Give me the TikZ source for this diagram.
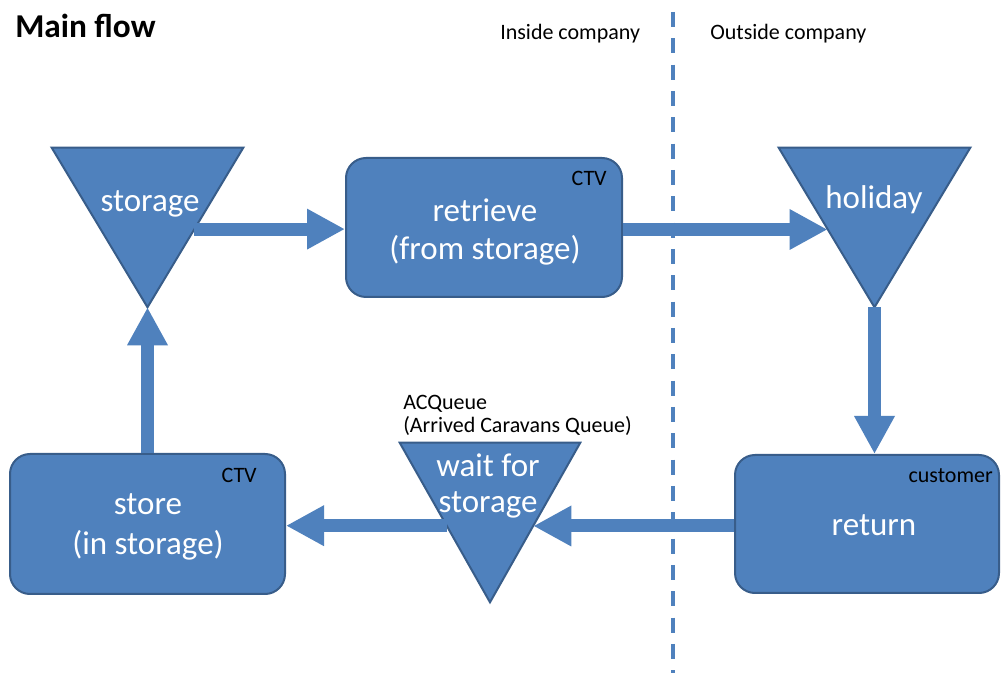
\documentclass[tikz,border=0pt]{standalone}
\usepackage{fontspec}
\setmainfont{Carlito}
\usetikzlibrary{arrows.meta,calc}
\definecolor{shapefill}{RGB}{79,129,189}
\definecolor{shapeline}{RGB}{56,93,138}

\begin{document}
\begin{tikzpicture}[x=0.75pt,y=-0.75pt,
  box/.style={draw=shapeline, fill=shapefill, line width=1.5pt, rounded corners=15pt, inner sep=0pt},
  triframe/.style={inner sep=0pt, minimum height=119.25pt},
  tri/.style={draw=shapeline, fill=shapefill, line width=1.5pt, line join=miter},
  big/.style={text=white, font=\fontsize{24.75}{29}\selectfont, inner sep=0pt, anchor=base},
  small/.style={text=black, font=\fontsize{16.5}{20}\selectfont, inner sep=0pt},
  flow/.style={draw=shapefill, line width=9.75pt, -{Triangle[length=28.5pt,width=28.5pt]}},
  divider/.style={draw=shapefill, line width=2.6pt, dash pattern=on 11.25pt off 8.5pt}
]
\fill[white] (0,0) rectangle (1001,673);
\useasboundingbox (0,0) rectangle (1001,673);

% headings
\node[anchor=base west, inner sep=0pt, font=\fontsize{25}{30}\selectfont\bfseries] (title) at (15,38) {Main flow};
\node[small, anchor=base west] (inside) at (500,40) {Inside company};
\node[small, anchor=base west] (outside) at (710,40) {Outside company};

% process boxes
\node[box, minimum width=207pt, minimum height=104.25pt] (retrieve) at (484,227.5) {};
\node[box, minimum width=206.25pt, minimum height=105pt] (store) at (147.5,524) {};
\node[box, minimum width=198pt, minimum height=103.5pt] (return) at (867,524) {};

% inventory triangles (frames, then the shapes)
\node[triframe, minimum width=143.25pt] (storage) at (147.5,227.5) {};
\node[triframe, minimum width=143.25pt] (holiday) at (874.5,227.5) {};
\node[triframe, minimum width=135pt] (wait) at (490,522.5) {};
\foreach \t in {storage,holiday,wait}
  \draw[tri] (\t.north west) -- (\t.north east) -- (\t.south) -- cycle;

% edge points on the triangles
\coordinate (storage-out) at ($(storage.north east)!0.51!(storage.south)$);
\coordinate (holiday-in) at ($(holiday.north west)!0.51!(holiday.south)$);
\coordinate (wait-in) at ($(wait.north east)!0.52!(wait.south)$);
\coordinate (wait-out) at ($(wait.north west)!0.52!(wait.south)$);

% flow arrows
\draw[flow] (storage-out) -- (storage-out -| retrieve.west);
\draw[flow] (retrieve.east) ++(0,2) coordinate (retrieve-out) -- (retrieve-out -| holiday-in);
\draw[flow] (holiday.south) -- (holiday.south |- return.north);
\draw[flow] (return.west) ++(0,2) coordinate (return-out) -- (return-out -| wait-in);
\draw[flow] (wait-out) -- (wait-out -| store.east);
\draw[flow] (store.north) -- (storage.south);

% company boundary
\coordinate (div-top) at (673,12);
\coordinate (div-bot) at (673,673);
\draw[divider] (div-top) -- (div-bot);

% shape texts
\node[big] (storage-txt) at (150,212) {storage};
\node[big] (holiday-txt) at (874,209) {holiday};
\node[big] (retrieve-l1) at (485,222) {retrieve};
\node[big] (retrieve-l2) at (485,260) {(from storage)};
\node[big] (store-l1) at (148,515) {store};
\node[big] (store-l2) at (148,555) {(in storage)};
\node[big] (wait-l1) at (488,477) {wait for};
\node[big] (wait-l2) at (488,513) {storage};
\node[big] (return-txt) at (874,536) {return};

% resource and queue labels
\node[small, anchor=base east] (retrieve-res) at (607,186) {CTV};
\node[small, anchor=base east] (store-res) at (257,483) {CTV};
\node[small, anchor=base east] (return-res) at (993,483) {customer};
\node[small, anchor=base west] (queue-name) at (403,410) {ACQueue};
\node[small, anchor=base west] (queue-desc) at (403,433) {(Arrived Caravans Queue)};
\end{tikzpicture}
\end{document}
